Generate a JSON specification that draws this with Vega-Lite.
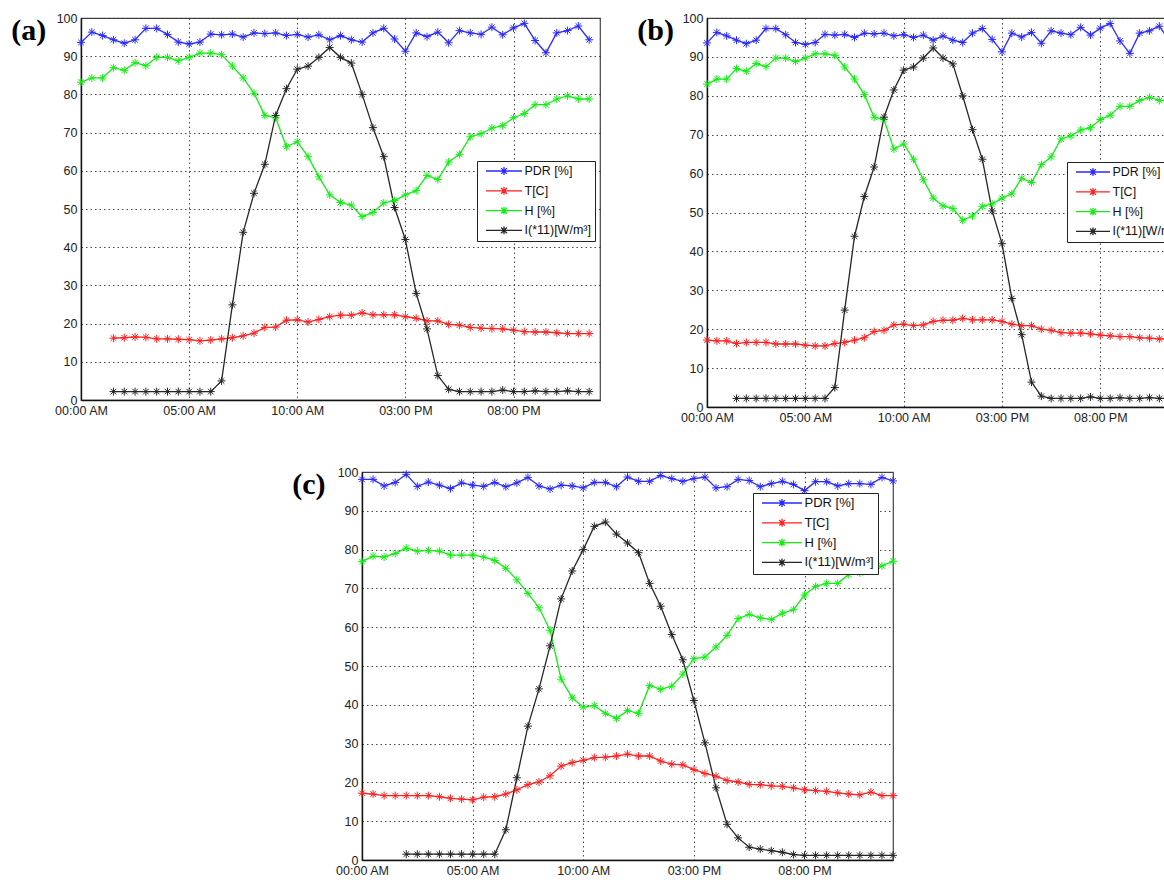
{
  "$schema": "https://vega.github.io/schema/vega-lite/v6.json",
  "background": "white",
  "padding": {"left": 10, "top": 11, "right": 0, "bottom": 0},
  "config": {
    "font": "Liberation Sans",
    "view": {"stroke": "#444", "strokeWidth": 1.2},
    "axis": {
      "grid": true, "gridDash": [1.5, 3], "gridColor": "#333", "gridOpacity": 0.9, "gridWidth": 1,
      "domain": true, "domainColor": "#111", "domainWidth": 1.4,
      "ticks": false, "labelFont": "Liberation Sans", "labelFontSize": 12.5, "labelColor": "#222",
      "title": null, "labelFlush": false
    },
    "legend": {
      "orient": "none", "title": null, "strokeColor": "#222", "fillColor": "white",
      "padding": 4, "symbolOffset": 4, "labelOffset": 1.5, "clipHeight": 12, "rowPadding": 6.8,
      "symbolStrokeWidth": 1.3, "labelFont": "Liberation Sans", "labelFontSize": 12.5, "labelColor": "#111"
    },
    "title": {"font": "Liberation Serif", "fontSize": 30, "fontWeight": "bold", "color": "black", "anchor": "start", "frame": "bounds", "baseline": "top", "dx": -43, "offset": -34}
  },
  "datasets": {
    "d": [
      {"p":"a","t":0,"PDR":93.6,"H":83.2},
      {"p":"a","t":0.5,"PDR":96.3,"H":84.3},
      {"p":"a","t":1,"PDR":95.4,"H":84.3},
      {"p":"a","t":1.5,"PDR":94.3,"T":16.2,"H":87.0,"I":2.2},
      {"p":"a","t":2,"PDR":93.4,"T":16.3,"H":86.3,"I":2.2},
      {"p":"a","t":2.5,"PDR":94.3,"T":16.5,"H":88.3,"I":2.2},
      {"p":"a","t":3,"PDR":97.3,"T":16.4,"H":87.5,"I":2.2},
      {"p":"a","t":3.5,"PDR":97.3,"T":16.0,"H":89.7,"I":2.2},
      {"p":"a","t":4,"PDR":95.7,"T":16.0,"H":89.7,"I":2.2},
      {"p":"a","t":4.5,"PDR":93.7,"T":15.9,"H":88.8,"I":2.2},
      {"p":"a","t":5,"PDR":93.2,"T":15.8,"H":89.7,"I":2.2},
      {"p":"a","t":5.5,"PDR":93.7,"T":15.5,"H":90.8,"I":2.2},
      {"p":"a","t":6,"PDR":95.8,"T":15.7,"H":90.8,"I":2.2},
      {"p":"a","t":6.5,"PDR":95.6,"T":16.0,"H":90.4,"I":5.0},
      {"p":"a","t":7,"PDR":95.8,"T":16.3,"H":87.4,"I":24.9},
      {"p":"a","t":7.5,"PDR":95.0,"T":16.8,"H":84.3,"I":43.9},
      {"p":"a","t":8,"PDR":96.1,"T":17.5,"H":80.3,"I":54.1},
      {"p":"a","t":8.5,"PDR":95.9,"T":19.0,"H":74.5,"I":61.7},
      {"p":"a","t":9,"PDR":96.1,"T":19.1,"H":73.9,"I":74.5},
      {"p":"a","t":9.5,"PDR":95.4,"T":20.9,"H":66.3,"I":81.5},
      {"p":"a","t":10,"PDR":95.7,"T":21.0,"H":67.6,"I":86.6},
      {"p":"a","t":10.5,"PDR":95.0,"T":20.4,"H":63.7,"I":87.4},
      {"p":"a","t":11,"PDR":95.6,"T":21.1,"H":58.4,"I":89.7},
      {"p":"a","t":11.5,"PDR":94.3,"T":21.8,"H":53.7,"I":92.3},
      {"p":"a","t":12,"PDR":95.4,"T":22.2,"H":51.7,"I":89.7},
      {"p":"a","t":12.5,"PDR":94.3,"T":22.2,"H":51.0,"I":88.2},
      {"p":"a","t":13,"PDR":93.7,"T":22.8,"H":48.0,"I":80.0},
      {"p":"a","t":13.5,"PDR":96.1,"T":22.3,"H":49.1,"I":71.3},
      {"p":"a","t":14,"PDR":97.3,"T":22.3,"H":51.6,"I":63.7},
      {"p":"a","t":14.5,"PDR":94.5,"T":22.3,"H":52.2,"I":50.4},
      {"p":"a","t":15,"PDR":91.3,"T":21.8,"H":53.7,"I":42.0},
      {"p":"a","t":15.5,"PDR":96.1,"T":21.4,"H":54.8,"I":27.9},
      {"p":"a","t":16,"PDR":95.1,"T":20.7,"H":58.8,"I":18.6},
      {"p":"a","t":16.5,"PDR":96.3,"T":20.7,"H":57.7,"I":6.4},
      {"p":"a","t":17,"PDR":93.5,"T":19.8,"H":62.3,"I":2.8},
      {"p":"a","t":17.5,"PDR":96.7,"T":19.6,"H":64.3,"I":2.2},
      {"p":"a","t":18,"PDR":96.1,"T":19.0,"H":68.9,"I":2.2},
      {"p":"a","t":18.5,"PDR":95.7,"T":18.8,"H":69.7,"I":2.2},
      {"p":"a","t":19,"PDR":97.6,"T":18.7,"H":71.2,"I":2.2},
      {"p":"a","t":19.5,"PDR":95.6,"T":18.6,"H":71.8,"I":2.6},
      {"p":"a","t":20,"PDR":97.4,"T":18.3,"H":73.9,"I":2.2},
      {"p":"a","t":20.5,"PDR":98.6,"T":17.9,"H":75.0,"I":2.2},
      {"p":"a","t":21,"PDR":94.1,"T":17.8,"H":77.3,"I":2.4},
      {"p":"a","t":21.5,"PDR":90.9,"T":17.8,"H":77.3,"I":2.2},
      {"p":"a","t":22,"PDR":96.1,"T":17.6,"H":78.8,"I":2.2},
      {"p":"a","t":22.5,"PDR":96.7,"T":17.4,"H":79.6,"I":2.4},
      {"p":"a","t":23,"PDR":97.9,"T":17.4,"H":78.8,"I":2.2},
      {"p":"a","t":23.5,"PDR":94.3,"T":17.4,"H":78.8,"I":2.2},

      {"p":"b","t":0,"PDR":93.6,"T":17.2,"H":83.0},
      {"p":"b","t":0.5,"PDR":96.3,"T":17.0,"H":84.3},
      {"p":"b","t":1,"PDR":95.4,"T":17.0,"H":84.3},
      {"p":"b","t":1.5,"PDR":94.3,"T":16.3,"H":87.0,"I":2.2},
      {"p":"b","t":2,"PDR":93.4,"T":16.6,"H":86.3,"I":2.2},
      {"p":"b","t":2.5,"PDR":94.3,"T":16.6,"H":88.3,"I":2.2},
      {"p":"b","t":3,"PDR":97.3,"T":16.6,"H":87.5,"I":2.2},
      {"p":"b","t":3.5,"PDR":97.3,"T":16.2,"H":89.7,"I":2.2},
      {"p":"b","t":4,"PDR":95.7,"T":16.2,"H":89.7,"I":2.2},
      {"p":"b","t":4.5,"PDR":93.7,"T":16.2,"H":88.8,"I":2.2},
      {"p":"b","t":5,"PDR":93.2,"T":15.9,"H":89.7,"I":2.2},
      {"p":"b","t":5.5,"PDR":93.7,"T":15.7,"H":90.8,"I":2.2},
      {"p":"b","t":6,"PDR":95.8,"T":15.7,"H":90.8,"I":2.2},
      {"p":"b","t":6.5,"PDR":95.6,"T":16.3,"H":90.4,"I":5.0},
      {"p":"b","t":7,"PDR":95.8,"T":16.6,"H":87.4,"I":24.9},
      {"p":"b","t":7.5,"PDR":95.0,"T":17.2,"H":84.3,"I":43.9},
      {"p":"b","t":8,"PDR":96.1,"T":17.8,"H":80.3,"I":54.1},
      {"p":"b","t":8.5,"PDR":95.9,"T":19.4,"H":74.5,"I":61.7},
      {"p":"b","t":9,"PDR":96.1,"T":19.7,"H":73.9,"I":74.5},
      {"p":"b","t":9.5,"PDR":95.4,"T":21.1,"H":66.3,"I":81.5},
      {"p":"b","t":10,"PDR":95.7,"T":21.3,"H":67.6,"I":86.6},
      {"p":"b","t":10.5,"PDR":95.0,"T":20.9,"H":63.7,"I":87.4},
      {"p":"b","t":11,"PDR":95.6,"T":21.1,"H":58.4,"I":89.7},
      {"p":"b","t":11.5,"PDR":94.3,"T":22.0,"H":53.7,"I":92.3},
      {"p":"b","t":12,"PDR":95.4,"T":22.3,"H":51.7,"I":89.7},
      {"p":"b","t":12.5,"PDR":94.3,"T":22.3,"H":51.0,"I":88.2},
      {"p":"b","t":13,"PDR":93.7,"T":22.8,"H":48.0,"I":80.0},
      {"p":"b","t":13.5,"PDR":96.1,"T":22.4,"H":49.1,"I":71.3},
      {"p":"b","t":14,"PDR":97.3,"T":22.4,"H":51.6,"I":63.7},
      {"p":"b","t":14.5,"PDR":94.5,"T":22.4,"H":52.2,"I":50.4},
      {"p":"b","t":15,"PDR":91.3,"T":22.0,"H":53.7,"I":42.0},
      {"p":"b","t":15.5,"PDR":96.1,"T":21.3,"H":54.8,"I":27.9},
      {"p":"b","t":16,"PDR":95.1,"T":20.9,"H":58.8,"I":18.6},
      {"p":"b","t":16.5,"PDR":96.3,"T":20.9,"H":57.7,"I":6.4},
      {"p":"b","t":17,"PDR":93.5,"T":20.0,"H":62.3,"I":2.8},
      {"p":"b","t":17.5,"PDR":96.7,"T":19.7,"H":64.3,"I":2.2},
      {"p":"b","t":18,"PDR":96.1,"T":19.1,"H":68.9,"I":2.2},
      {"p":"b","t":18.5,"PDR":95.7,"T":19.0,"H":69.7,"I":2.2},
      {"p":"b","t":19,"PDR":97.6,"T":19.0,"H":71.2,"I":2.2},
      {"p":"b","t":19.5,"PDR":95.6,"T":18.8,"H":71.8,"I":2.6},
      {"p":"b","t":20,"PDR":97.4,"T":18.5,"H":73.9,"I":2.2},
      {"p":"b","t":20.5,"PDR":98.6,"T":18.3,"H":75.0,"I":2.2},
      {"p":"b","t":21,"PDR":94.1,"T":18.1,"H":77.3,"I":2.4},
      {"p":"b","t":21.5,"PDR":90.9,"T":18.1,"H":77.3,"I":2.2},
      {"p":"b","t":22,"PDR":96.1,"T":17.8,"H":78.8,"I":2.2},
      {"p":"b","t":22.5,"PDR":96.7,"T":17.7,"H":79.6,"I":2.4},
      {"p":"b","t":23,"PDR":97.9,"T":17.5,"H":78.8,"I":2.2},
      {"p":"b","t":23.5,"PDR":94.3,"T":17.5,"H":78.8,"I":2.2},

      {"p":"c","t":0,"PDR":98.1,"T":17.2,"H":76.9},
      {"p":"c","t":0.5,"PDR":98.1,"T":17.0,"H":78.3},
      {"p":"c","t":1,"PDR":96.4,"T":16.6,"H":78.1},
      {"p":"c","t":1.5,"PDR":97.3,"T":16.6,"H":79.0},
      {"p":"c","t":2,"PDR":99.4,"T":16.6,"H":80.4,"I":1.5},
      {"p":"c","t":2.5,"PDR":96.3,"T":16.6,"H":79.6,"I":1.5},
      {"p":"c","t":3,"PDR":97.4,"T":16.6,"H":79.8,"I":1.5},
      {"p":"c","t":3.5,"PDR":96.6,"T":16.3,"H":79.6,"I":1.5},
      {"p":"c","t":4,"PDR":95.7,"T":15.9,"H":78.6,"I":1.5},
      {"p":"c","t":4.5,"PDR":97.2,"T":15.7,"H":78.6,"I":1.5},
      {"p":"c","t":5,"PDR":96.6,"T":15.5,"H":78.6,"I":1.5},
      {"p":"c","t":5.5,"PDR":96.3,"T":16.2,"H":78.1,"I":1.5},
      {"p":"c","t":6,"PDR":97.3,"T":16.3,"H":77.2,"I":1.5},
      {"p":"c","t":6.5,"PDR":96.2,"T":17.0,"H":75.2,"I":7.8},
      {"p":"c","t":7,"PDR":97.2,"T":18.1,"H":72.2,"I":21.2},
      {"p":"c","t":7.5,"PDR":98.6,"T":19.4,"H":68.7,"I":34.5},
      {"p":"c","t":8,"PDR":96.4,"T":20.1,"H":65.0,"I":44.1},
      {"p":"c","t":8.5,"PDR":95.6,"T":21.7,"H":59.2,"I":55.2},
      {"p":"c","t":9,"PDR":96.6,"T":24.2,"H":46.6,"I":67.3},
      {"p":"c","t":9.5,"PDR":96.4,"T":25.1,"H":41.8,"I":74.5},
      {"p":"c","t":10,"PDR":95.9,"T":25.7,"H":39.4,"I":80.0},
      {"p":"c","t":10.5,"PDR":97.3,"T":26.4,"H":39.8,"I":86.0},
      {"p":"c","t":11,"PDR":97.3,"T":26.5,"H":37.8,"I":87.1},
      {"p":"c","t":11.5,"PDR":96.2,"T":26.8,"H":36.5,"I":84.0},
      {"p":"c","t":12,"PDR":98.7,"T":27.3,"H":38.5,"I":81.7},
      {"p":"c","t":12.5,"PDR":97.6,"T":26.8,"H":37.8,"I":79.2},
      {"p":"c","t":13,"PDR":97.6,"T":26.8,"H":45.0,"I":71.3},
      {"p":"c","t":13.5,"PDR":99.1,"T":25.5,"H":44.0,"I":65.4},
      {"p":"c","t":14,"PDR":98.3,"T":24.7,"H":44.8,"I":58.1},
      {"p":"c","t":14.5,"PDR":97.6,"T":24.5,"H":47.9,"I":51.6},
      {"p":"c","t":15,"PDR":98.3,"T":23.3,"H":51.9,"I":41.1},
      {"p":"c","t":15.5,"PDR":98.7,"T":22.3,"H":52.3,"I":30.2},
      {"p":"c","t":16,"PDR":95.9,"T":21.6,"H":54.9,"I":18.6},
      {"p":"c","t":16.5,"PDR":96.2,"T":20.5,"H":57.9,"I":9.2},
      {"p":"c","t":17,"PDR":98.1,"T":20.1,"H":62.2,"I":5.7},
      {"p":"c","t":17.5,"PDR":97.8,"T":19.5,"H":63.3,"I":3.3},
      {"p":"c","t":18,"PDR":96.2,"T":19.4,"H":62.4,"I":2.8},
      {"p":"c","t":18.5,"PDR":97.0,"T":19.1,"H":62.0,"I":2.4},
      {"p":"c","t":19,"PDR":97.6,"T":19.0,"H":63.6,"I":2.0},
      {"p":"c","t":19.5,"PDR":96.8,"T":18.6,"H":64.5,"I":1.4},
      {"p":"c","t":20,"PDR":95.2,"T":18.1,"H":68.3,"I":1.2},
      {"p":"c","t":20.5,"PDR":97.5,"T":17.9,"H":70.5,"I":1.2},
      {"p":"c","t":21,"PDR":97.5,"T":17.7,"H":71.3,"I":1.2},
      {"p":"c","t":21.5,"PDR":96.4,"T":17.3,"H":71.3,"I":1.2},
      {"p":"c","t":22,"PDR":97.0,"T":17.0,"H":73.6,"I":1.2},
      {"p":"c","t":22.5,"PDR":97.0,"T":16.8,"H":74.0,"I":1.2},
      {"p":"c","t":23,"PDR":96.8,"T":17.5,"H":74.9,"I":1.2},
      {"p":"c","t":23.5,"PDR":98.6,"T":16.6,"H":75.8,"I":1.2},
      {"p":"c","t":24,"PDR":97.7,"T":16.6,"H":77.0,"I":1.2}
    ]
  },
  "spacing": 40,
  "resolve": {"scale": {"color": "independent"}, "legend": {"color": "independent"}},
  "vconcat": [
    {
      "spacing": 35,
      "resolve": {"scale": {"color": "independent"}, "legend": {"color": "independent"}},
      "hconcat": [
        {
          "width": 519, "height": 382,
          "title": {"text": "(a)"},
          "data": {"name": "d"},
          "transform": [{"filter": "datum.p == 'a'"}, {"fold": ["PDR", "T", "H", "I"], "as": ["s", "v"]}],
          "mark": {"type": "line", "strokeWidth": 1.3, "point": {"shape": "M-1,0L1,0M0,-1L0,1M-0.7,-0.7L0.7,0.7M-0.7,0.7L0.7,-0.7", "filled": false, "size": 64, "strokeWidth": 1}},
          "encoding": {
            "x": {"field": "t", "type": "quantitative", "scale": {"domain": [0, 24], "nice": false, "zero": false},
                  "axis": {"values": [0, 5, 10, 15, 20], "labelPadding": 4, "labelExpr": "datum.value == 0 ? '00:00 AM' : datum.value == 5 ? '05:00 AM' : datum.value == 10 ? '10:00 AM' : datum.value == 15 ? '03:00 PM' : '08:00 PM'"}},
            "y": {"field": "v", "type": "quantitative", "scale": {"domain": [0, 100], "nice": false},
                  "axis": {"values": [0, 10, 20, 30, 40, 50, 60, 70, 80, 90, 100], "labelPadding": 4}},
            "color": {"field": "s", "type": "nominal", "sort": ["PDR", "T", "H", "I"],
                      "scale": {"domain": ["PDR", "T", "H", "I"], "range": ["#2a2aff", "#ff2020", "#12ee12", "#262626"]},
                      "legend": {"legendX": 396, "legendY": 143, "symbolSize": 1296,
                                 "labelExpr": "datum.label == 'PDR' ? 'PDR [%]' : datum.label == 'T' ? 'T[C]' : datum.label == 'H' ? 'H [%]' : 'I(*11)[W/m³]'",
                                 "symbolType": "M-1,0L1,0M0,-0.22L0,0.22M-0.22,0L0.22,0M-0.16,-0.16L0.16,0.16M-0.16,0.16L0.16,-0.16"}}
          }
        },
        {
          "width": 472, "height": 389,
          "title": {"text": "(b)"},
          "data": {"name": "d"},
          "transform": [{"filter": "datum.p == 'b'"}, {"fold": ["PDR", "T", "H", "I"], "as": ["s", "v"]}],
          "mark": {"type": "line", "strokeWidth": 1.3, "point": {"shape": "M-1,0L1,0M0,-1L0,1M-0.7,-0.7L0.7,0.7M-0.7,0.7L0.7,-0.7", "filled": false, "size": 64, "strokeWidth": 1}},
          "encoding": {
            "x": {"field": "t", "type": "quantitative", "scale": {"domain": [0, 24], "nice": false, "zero": false},
                  "axis": {"values": [0, 5, 10, 15, 20], "labelPadding": 4, "labelExpr": "datum.value == 0 ? '00:00 AM' : datum.value == 5 ? '05:00 AM' : datum.value == 10 ? '10:00 AM' : datum.value == 15 ? '03:00 PM' : '08:00 PM'"}},
            "y": {"field": "v", "type": "quantitative", "scale": {"domain": [0, 100], "nice": false},
                  "axis": {"values": [0, 10, 20, 30, 40, 50, 60, 70, 80, 90, 100], "labelPadding": 4}},
            "color": {"field": "s", "type": "nominal", "sort": ["PDR", "T", "H", "I"],
                      "scale": {"domain": ["PDR", "T", "H", "I"], "range": ["#2a2aff", "#ff2020", "#12ee12", "#262626"]},
                      "legend": {"legendX": 360, "legendY": 144, "symbolSize": 1156,
                                 "labelExpr": "datum.label == 'PDR' ? 'PDR [%]' : datum.label == 'T' ? 'T[C]' : datum.label == 'H' ? 'H [%]' : 'I(*11)[W/m³]'",
                                 "symbolType": "M-1,0L1,0M0,-0.23L0,0.23M-0.23,0L0.23,0M-0.17,-0.17L0.17,0.17M-0.17,0.17L0.17,-0.17"}}
          }
        }
      ]
    },
    {
      "spacing": 0,
      "resolve": {"scale": {"color": "independent"}, "legend": {"color": "independent"}},
      "hconcat": [
        {
          "width": 210, "height": 388,
          "view": {"stroke": null},
          "data": {"values": [{}]},
          "mark": {"type": "point", "opacity": 0}
        },
        {
          "width": 531, "height": 388,
          "title": {"text": "(c)"},
          "data": {"name": "d"},
          "transform": [{"filter": "datum.p == 'c'"}, {"fold": ["PDR", "T", "H", "I"], "as": ["s", "v"]}],
          "mark": {"type": "line", "strokeWidth": 1.3, "point": {"shape": "M-1,0L1,0M0,-1L0,1M-0.7,-0.7L0.7,0.7M-0.7,0.7L0.7,-0.7", "filled": false, "size": 64, "strokeWidth": 1}},
          "encoding": {
            "x": {"field": "t", "type": "quantitative", "scale": {"domain": [0, 24], "nice": false, "zero": false},
                  "axis": {"values": [0, 5, 10, 15, 20], "labelPadding": 4, "labelExpr": "datum.value == 0 ? '00:00 AM' : datum.value == 5 ? '05:00 AM' : datum.value == 10 ? '10:00 AM' : datum.value == 15 ? '03:00 PM' : '08:00 PM'"}},
            "y": {"field": "v", "type": "quantitative", "scale": {"domain": [0, 100], "nice": false},
                  "axis": {"values": [0, 10, 20, 30, 40, 50, 60, 70, 80, 90, 100], "labelPadding": 4}},
            "color": {"field": "s", "type": "nominal", "sort": ["PDR", "T", "H", "I"],
                      "scale": {"domain": ["PDR", "T", "H", "I"], "range": ["#2a2aff", "#ff2020", "#12ee12", "#262626"]},
                      "legend": {"legendX": 391, "legendY": 21, "symbolSize": 1600, "labelFontSize": 13,
                                 "labelExpr": "datum.label == 'PDR' ? 'PDR [%]' : datum.label == 'T' ? 'T[C]' : datum.label == 'H' ? 'H [%]' : 'I(*11)[W/m³]'",
                                 "symbolType": "M-1,0L1,0M0,-0.2L0,0.2M-0.2,0L0.2,0M-0.14,-0.14L0.14,0.14M-0.14,0.14L0.14,-0.14"}}
          }
        }
      ]
    }
  ]
}
